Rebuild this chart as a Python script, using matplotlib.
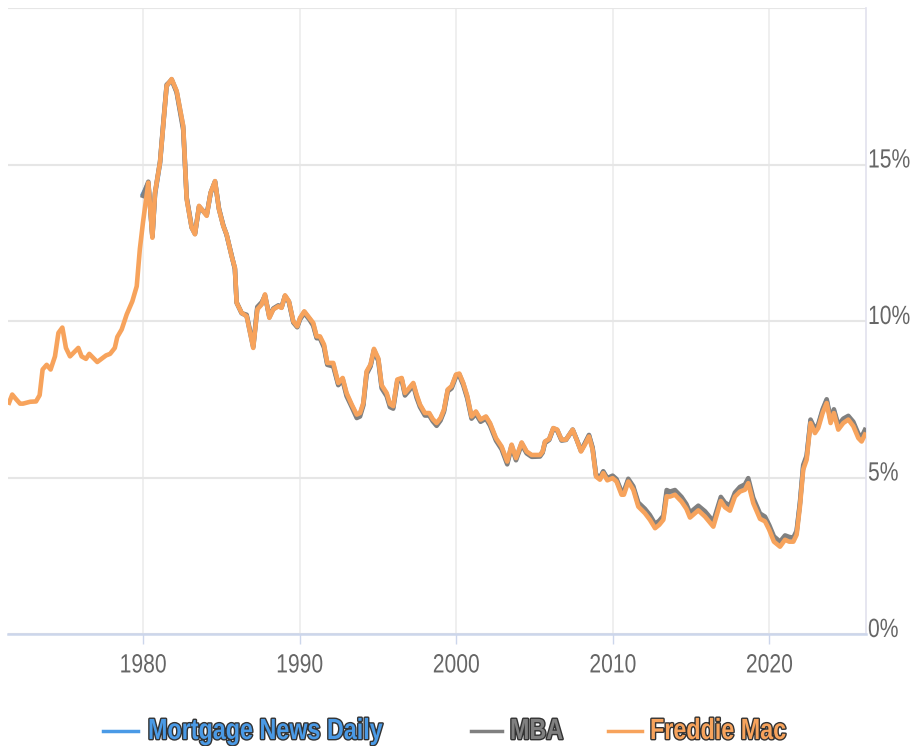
import matplotlib
matplotlib.use("Agg")
import matplotlib.pyplot as plt
import matplotlib.patheffects as pe
from matplotlib.lines import Line2D
from matplotlib.transforms import Affine2D

# decimal years (1971 .. 1979 only Freddie Mac has data)
years_pre80 = [1971.45, 1971.65, 1971.9, 1972.15, 1972.34, 1972.8, 1973.17, 1973.4, 1973.59, 1973.85,
               1974.1, 1974.38, 1974.6, 1974.85, 1975.08, 1975.34, 1975.6, 1975.87, 1976.08, 1976.36,
               1976.57, 1977.08, 1977.64, 1977.9, 1978.2, 1978.36, 1978.64, 1978.96, 1979.32, 1979.6, 1979.8]
years_80on = [1980.0, 1980.34, 1980.6, 1980.77, 1981.09, 1981.3, 1981.51, 1981.83, 1982.15, 1982.57, 1982.79,
              1983.11, 1983.32, 1983.58, 1984.07, 1984.32, 1984.6, 1984.85, 1985.13, 1985.34, 1985.66, 1985.87,
              1985.98, 1986.3, 1986.62, 1987.04, 1987.3, 1987.58, 1987.79, 1988.07, 1988.32, 1988.64, 1988.85,
              1989.07, 1989.32, 1989.6, 1989.85,
              1990.03, 1990.3, 1990.62, 1990.87, 1991.09, 1991.3, 1991.56, 1991.77, 1992.15, 1992.47, 1992.75,
              1993.0, 1993.33, 1993.65, 1993.86, 1994.07, 1994.28, 1994.53, 1994.75, 1995.03, 1995.24, 1995.56,
              1995.77, 1995.98, 1996.24, 1996.52, 1996.73, 1997.0, 1997.26, 1997.47, 1997.69, 1998.0, 1998.28,
              1998.5, 1998.75, 1999.0, 1999.22, 1999.46, 1999.71, 1999.99,
              2000.2, 2000.45, 2000.71, 2000.98, 2001.26, 2001.56, 2001.9, 2002.16, 2002.54, 2002.9, 2003.26,
              2003.54, 2003.82, 2004.18, 2004.5, 2004.82, 2005.35, 2005.52, 2005.67, 2005.94, 2006.2, 2006.45,
              2006.73, 2007.01, 2007.44, 2007.69, 2007.97, 2008.22, 2008.48, 2008.71, 2008.93, 2009.18, 2009.39,
              2009.65, 2009.99,
              2010.24, 2010.56, 2010.71, 2010.99, 2011.31, 2011.63, 2012.05, 2012.37, 2012.7, 2012.97, 2013.23,
              2013.44, 2013.65, 2013.97, 2014.39, 2014.7, 2014.93, 2015.46, 2015.89, 2016.42, 2016.9, 2017.16,
              2017.48, 2017.8, 2018.12, 2018.44, 2018.65, 2018.97, 2019.4, 2019.72, 2019.99,
              2020.29, 2020.68, 2021.0, 2021.27, 2021.53, 2021.74, 2021.95, 2022.16, 2022.38, 2022.63, 2022.91,
              2023.12, 2023.4, 2023.66, 2023.91, 2024.12, 2024.4, 2024.72, 2025.04, 2025.36, 2025.68, 2025.89,
              2026.1]

freddie_pre80 = [7.39, 7.65, 7.5, 7.36, 7.36, 7.42, 7.43, 7.63, 8.45, 8.6, 8.45, 8.87, 9.62, 9.79, 9.14, 8.87,
                 9.0, 9.14, 8.87, 8.79, 8.95, 8.69, 8.9, 8.95, 9.14, 9.49, 9.73, 10.21, 10.63, 11.11, 12.3]
freddie_80on = [13.15, 14.42, 12.66, 14.1, 15.07, 16.3, 17.51, 17.73, 17.35, 16.23, 13.89, 12.98, 12.77, 13.68,
                13.36, 14.1, 14.47, 13.57, 13.03, 12.77, 12.07, 11.7, 10.58, 10.26, 10.15, 9.14, 10.37, 10.53,
                10.85, 10.1, 10.37, 10.47, 10.42, 10.82, 10.63, 9.99, 9.83,
                10.1, 10.31, 10.1, 9.94, 9.51, 9.51, 9.25, 8.66, 8.66, 8.02, 8.18, 7.7, 7.33, 7.01, 7.06, 7.38,
                8.39, 8.61, 9.11, 8.8, 7.95, 7.7, 7.35, 7.28, 8.13, 8.18, 7.7, 7.86, 8.02, 7.65, 7.33, 7.06, 7.06,
                6.87, 6.74, 6.9, 7.17, 7.81, 7.92, 8.29,
                8.32, 8.02, 7.6, 6.95, 7.11, 6.85, 6.95, 6.74, 6.26, 5.99, 5.51, 6.05, 5.62, 6.12, 5.83, 5.72,
                5.72, 5.83, 6.15, 6.23, 6.58, 6.53, 6.21, 6.21, 6.53, 6.21, 5.83, 6.05, 6.31, 5.89, 5.03, 4.93,
                5.14, 4.91, 4.98,
                4.87, 4.45, 4.45, 4.87, 4.61, 4.07, 3.86, 3.65, 3.38, 3.49, 3.65, 4.4, 4.39, 4.45, 4.23, 4.0,
                3.72, 3.95, 3.75, 3.43, 4.25, 4.05, 3.94, 4.39, 4.55, 4.61, 4.82, 4.18, 3.68, 3.6, 3.33,
                2.95, 2.79, 3.01, 2.95, 2.95, 3.17, 4.07, 5.25, 5.57, 6.74, 6.42, 6.58, 7.06, 7.38, 6.74, 7.06,
                6.53, 6.74, 6.85, 6.64, 6.26, 6.15, 6.37]
mba = [14.0, 14.45, 12.7, 14.1, 15.1, 16.35, 17.55, 17.7, 17.3, 16.1, 13.95, 13.0, 12.8, 13.65, 13.4, 14.1,
       14.45, 13.6, 13.05, 12.75, 12.1, 11.65, 10.6, 10.25, 10.2, 9.2, 10.45, 10.6, 10.8, 10.15, 10.4, 10.5,
       10.45, 10.8, 10.6, 9.95, 9.8,
       10.05, 10.25, 10.05, 9.85, 9.45, 9.45, 9.15, 8.6, 8.55, 7.95, 8.1, 7.6, 7.25, 6.9, 6.95, 7.3, 8.3, 8.55,
       9.05, 8.72, 7.85, 7.6, 7.25, 7.2, 8.05, 8.12, 7.62, 7.78, 7.95, 7.55, 7.25, 6.98, 6.98, 6.8, 6.65, 6.82,
       7.1, 7.75, 7.85, 8.22,
       8.25, 7.95, 7.52, 6.88, 7.03, 6.78, 6.88, 6.66, 6.18, 5.9, 5.42, 5.98, 5.55, 6.05, 5.77, 5.66, 5.67,
       5.79, 6.1, 6.2, 6.55, 6.5, 6.18, 6.2, 6.52, 6.22, 5.86, 6.1, 6.36, 5.96, 5.1, 5.0, 5.2, 4.98, 5.06,
       4.95, 4.55, 4.56, 4.96, 4.72, 4.2, 4.0, 3.8, 3.52, 3.62, 3.78, 4.6, 4.55, 4.6, 4.38, 4.15, 3.88, 4.1,
       3.92, 3.6, 4.38, 4.2, 4.1, 4.52, 4.7, 4.78, 4.98, 4.35, 3.85, 3.75, 3.48,
       3.12, 2.95, 3.15, 3.1, 3.08, 3.3, 4.2, 5.4, 5.7, 6.85, 6.55, 6.7, 7.18, 7.5, 6.88, 7.18, 6.68, 6.88,
       6.97, 6.78, 6.4, 6.3, 6.52]
mnd = [14.05, 14.4, 12.7, 14.05, 15.05, 16.3, 17.5, 17.72, 17.33, 16.2, 13.92, 12.98, 12.78, 13.66, 13.38,
       14.08, 14.46, 13.58, 13.04, 12.76, 12.08, 11.68, 10.58, 10.25, 10.16, 9.16, 10.4, 10.55, 10.83, 10.12,
       10.38, 10.48, 10.43, 10.8, 10.62, 9.97, 9.82,
       10.08, 10.29, 10.08, 9.9, 9.48, 9.48, 9.2, 8.63, 8.62, 7.98, 8.15, 7.66, 7.3, 6.97, 7.02, 7.35, 8.36,
       8.58, 9.08, 8.77, 7.92, 7.66, 7.31, 7.25, 8.1, 8.15, 7.67, 7.83, 7.99, 7.61, 7.3, 7.03, 7.03, 6.84,
       6.71, 6.87, 7.14, 7.79, 7.9, 8.27,
       8.3, 8.0, 7.57, 6.93, 7.08, 6.83, 6.93, 6.71, 6.23, 5.96, 5.48, 6.03, 5.6, 6.1, 5.81, 5.7, 5.71, 5.82,
       6.14, 6.22, 6.57, 6.52, 6.2, 6.21, 6.53, 6.22, 5.85, 6.08, 6.34, 5.93, 5.07, 4.97, 5.18, 4.95, 5.03,
       4.92, 4.51, 4.52, 4.92, 4.67, 4.14, 3.93, 3.73, 3.46, 3.56, 3.72, 4.5, 4.47, 4.53, 4.31, 4.08, 3.8,
       4.03, 3.84, 3.52, 4.32, 4.13, 4.02, 4.46, 4.63, 4.7, 4.9, 4.27, 3.76, 3.68, 3.41,
       3.03, 2.87, 3.09, 3.03, 3.02, 3.25, 4.15, 5.33, 5.65, 6.82, 6.5, 6.66, 7.14, 7.46, 6.82, 7.14, 6.62,
       6.82, 6.93, 6.72, 6.34, 6.23, 6.45]

series_names = ['Mortgage News Daily', 'MBA', 'Freddie Mac']
series_colors = ['#4a9ae6', '#808080', '#f7a35c']
x_ticks = [1980, 1990, 2000, 2010, 2020]
y_ticks = [0, 5, 10, 15]

FONT = ['Liberation Sans', 'DejaVu Sans']
W, H = 913, 746


class Squeeze(pe.AbstractPathEffect):
    """draw text narrower (the reference uses a condensed face), optional outline"""
    def __init__(self, sx=0.8, center=False, stroke=None, lw=0.0):
        super().__init__()
        self.sx, self.center, self.stroke, self.lw = sx, center, stroke, lw

    def draw_path(self, renderer, gc, tpath, affine, rgbFace=None):
        cx = 0.0
        if self.center:
            ext = tpath.get_extents()
            cx = (ext.x0 + ext.x1) / 2
        t = Affine2D().translate(-cx, 0).scale(self.sx, 1).translate(cx, 0) + affine
        if self.stroke is not None:
            gc0 = renderer.new_gc()
            gc0.copy_properties(gc)
            gc0.set_foreground(self.stroke)
            gc0.set_linewidth(self.lw)
            renderer.draw_path(gc0, tpath, t, rgbFace)
            gc0.restore()
        renderer.draw_path(gc, tpath, t, rgbFace)


fig = plt.figure(figsize=(W / 100, H / 100), dpi=100)
ax = fig.add_axes([8 / W, (H - 634) / H, (866 - 8) / W, (634 - 8) / H])

ax.plot(years_80on, mnd, color=series_colors[0], lw=3.3, solid_joinstyle='round', zorder=3)
ax.plot(years_80on, mba, color=series_colors[1], lw=3.3, solid_joinstyle='round', zorder=4)
ax.plot(years_pre80 + years_80on, freddie_pre80 + freddie_80on, color=series_colors[2], lw=3.3,
        solid_joinstyle='round', zorder=5)

ax.set_xlim(1971.38, 2026.17)
ax.set_ylim(0, 20)
ax.set_xticks(x_ticks)
ax.set_yticks(y_ticks + [20])
ax.grid(True, axis='y', color='#e6e6e6', lw=1.5, zorder=0)
ax.grid(True, axis='x', color='#ececec', lw=1.2, zorder=0)
ax.tick_params(axis='y', left=False, labelleft=False)
ax.tick_params(axis='x', length=7, width=1, color='#ccd6eb', pad=7, labelcolor='#666666', labelsize=19)
for lab in ax.get_xticklabels():
    lab.set_family(FONT)
    lab.set_path_effects([Squeeze(0.8, center=True)])

for s in ['left', 'top']:
    ax.spines[s].set_visible(False)
ax.spines['bottom'].set_color('#ccd6eb')
ax.spines['bottom'].set_linewidth(1.8)
ax.spines['bottom'].set_zorder(6)
ax.spines['right'].set_color('#e2e2ee')
ax.spines['right'].set_linewidth(1.2)

for v in y_ticks:
    ax.annotate(f'{v}%', xy=(1.0, v), xycoords=('axes fraction', 'data'), xytext=(2, -3),
                textcoords='offset pixels', ha='left', va='baseline', fontsize=19,
                color='#666666', family=FONT, annotation_clip=False,
                path_effects=[Squeeze(0.8)])

# legend, drawn by hand in figure pixels
leg_y = (H - 731) / H
leg_items = [(103, 138, 148), (471, 502, 510), (608, 642, 650)]
for (x0, x1, xt), name, col in zip(leg_items, series_names, series_colors):
    fig.add_artist(Line2D([x0 / W, x1 / W], [leg_y, leg_y], color=col, lw=2.5))
    fig.text(xt / W, leg_y, name, ha='left', va='center', fontsize=21, fontweight='bold',
             color=col, family=FONT,
             path_effects=[Squeeze(0.8, stroke='#333333', lw=2.0)])

fig.savefig('out.png', dpi=100)
